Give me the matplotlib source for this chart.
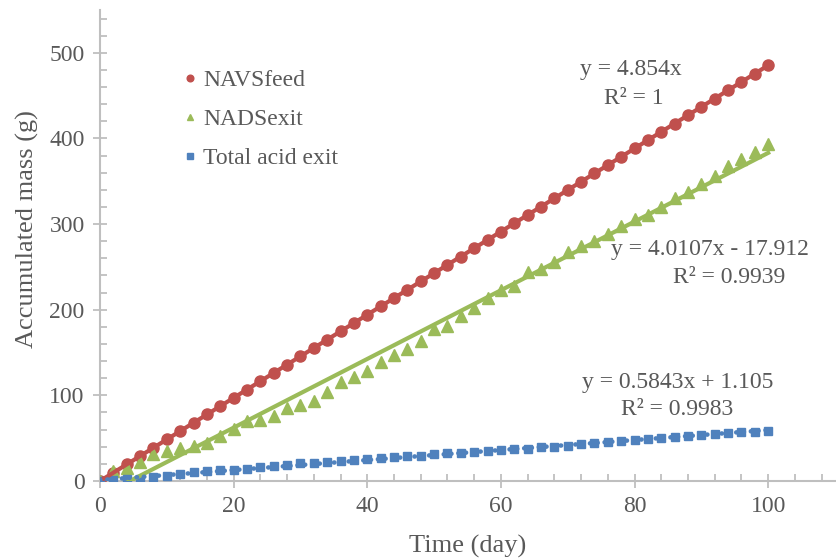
import matplotlib
matplotlib.use("Agg")
import matplotlib.pyplot as plt
import numpy as np

plt.rcParams['font.family'] = ['Liberation Serif', 'DejaVu Serif']

# 数据: 每两天一个点
days = list(range(0, 101, 2))
navs_feed = [0, 9.7, 19.4, 29.1, 38.8, 48.5, 58.2, 68.0, 77.7, 87.4,
             97.1, 106.8, 116.5, 126.2, 135.9, 145.6, 155.3, 165.0, 174.7, 184.5,
             194.2, 203.9, 213.6, 223.3, 233.0, 242.7, 252.4, 262.1, 271.8, 281.5,
             291.2, 301.0, 310.7, 320.4, 330.1, 339.8, 349.5, 359.2, 368.9, 378.6,
             388.3, 398.0, 407.7, 417.4, 427.2, 436.9, 446.6, 456.3, 466.0, 475.7,
             485.4]
nads_exit = [0, 12, 15, 22, 31, 35, 38, 41, 44, 53,
             61, 70, 71, 76, 85, 89, 94, 104, 116, 122,
             128, 139, 147, 154, 164, 177, 181, 193, 202, 214,
             223, 228, 244, 247, 256, 267, 275, 280, 289, 298,
             306, 311, 320, 330, 338, 347, 356, 368, 376, 384,
             394]
total_acid = [0.4, 1.2, 2.0, 2.3, 5.0, 5.8, 8.2, 10.1, 11.7, 12.9,
              12.9, 13.6, 16.0, 17.5, 18.7, 20.6, 21.6, 22.2, 23.4, 24.1,
              25.3, 26.5, 27.7, 28.8, 29.4, 31.0, 32.4, 33.1, 33.9, 34.7,
              36.2, 37.0, 37.7, 39.4, 40.1, 40.9, 43.2, 44.7, 45.9, 46.7,
              47.9, 49.1, 50.2, 51.0, 52.6, 53.7, 54.9, 55.7, 56.9, 57.6,
              58.8]

# 趋势线系数 (斜率, 截距)
fit_navs = (4.854, 0.0)
fit_nads = (4.0107, -17.912)
fit_acid = (0.5843, 1.105)
labels = ['NAVSfeed', 'NADSexit', 'Total acid exit']
eq_texts = [('y = 4.854x', 'R² = 1'),
            ('y = 4.0107x - 17.912', 'R² = 0.9939'),
            ('y = 0.5843x + 1.105', 'R² = 0.9983')]

red = '#C0504D'
green = '#9BBB59'
blue = '#4F81BD'
txt = '#595959'
axc = '#BFBFBF'

fig = plt.figure(figsize=(8.36, 5.6), dpi=100)
ax = fig.add_axes([100 / 836, 79 / 560, 735 / 836, 471 / 560])

h1, = ax.plot(days, navs_feed, 'o', color=red, markersize=8, label=labels[0], zorder=3)
h2, = ax.plot(days, nads_exit, '^', color=green, markersize=8, label=labels[1], zorder=3)
h3, = ax.plot(days, total_acid, 's', color=blue, markersize=6.2, label=labels[2], zorder=3)

xx = np.array([0, 100])
ax.plot(xx, fit_navs[0] * xx + fit_navs[1], color=red, lw=3, zorder=4)
ax.plot(xx, fit_nads[0] * xx + fit_nads[1], color=green, lw=3, zorder=4)
ax.plot(xx, fit_acid[0] * xx + fit_acid[1], color=blue, lw=3.3,
        linestyle=(0, (0.1, 1.5)), dash_capstyle='round', zorder=4)

ax.set_xlim(0, 110)
ax.set_ylim(0, 550)
ax.set_xticks(range(0, 101, 20))
ax.set_xticks(range(0, 110, 4), minor=True)
ax.set_yticks(range(0, 501, 100))
ax.set_yticks(range(0, 551, 20), minor=True)

for s in ['top', 'right']:
    ax.spines[s].set_visible(False)
for s in ['left', 'bottom']:
    ax.spines[s].set_color(axc)
    ax.spines[s].set_linewidth(1.5)

ax.tick_params(which='major', direction='inout', length=10, width=1.3, color=axc,
               labelsize=17, labelcolor=txt, pad=6)
ax.tick_params(which='minor', direction='in', length=5, width=1.3, color=axc)

ax.set_xlabel('Time (day)', fontsize=19, color=txt)
ax.set_ylabel('Accumulated mass (g)', fontsize=19, color=txt)
ax.xaxis.set_label_coords(0.5, -0.115)
ax.yaxis.set_label_coords(-0.099, 0.535)
ax.xaxis.label.set_va('top')
ax.yaxis.label.set_va('center')

# 趋势线公式位置 (数据坐标)
eq_pos = [((79.5, 480), (79.9, 447)),
          ((91.3, 270), (94.2, 238)),
          ((86.4, 114.5), (86.4, 83))]
for (l1, l2), (p1, p2) in zip(eq_texts, eq_pos):
    ax.text(p1[0], p1[1], l1, fontsize=17, color=txt, ha='center', va='center')
    ax.text(p2[0], p2[1], l2, fontsize=17, color=txt, ha='center', va='center')

leg = ax.legend(handles=[h1, h2, h3], loc='upper left', bbox_to_anchor=(162 / 836, 1 - 48 / 560),
                bbox_transform=fig.transFigure, frameon=False, fontsize=17,
                markerscale=0.6, handlelength=0.6, handletextpad=0.25, labelspacing=0.75)
for t in leg.get_texts():
    t.set_color(txt)

fig.savefig('out.png', dpi=100)
